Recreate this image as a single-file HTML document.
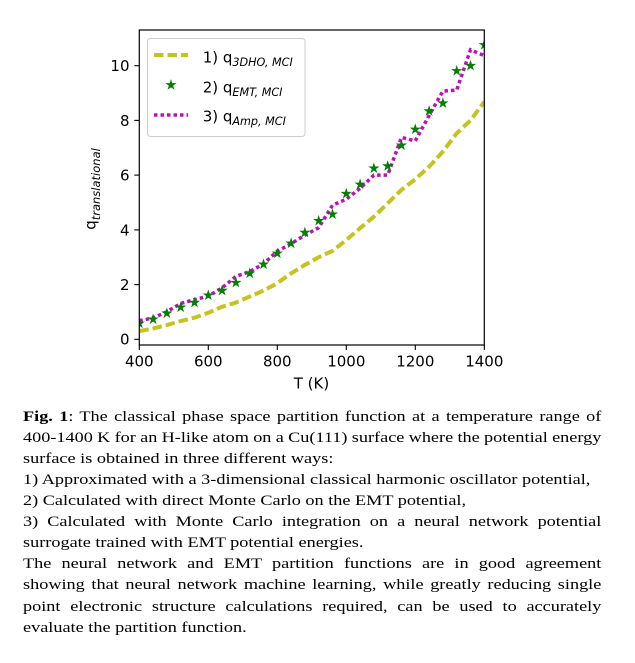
<!DOCTYPE html>
<html>
<head>
<meta charset="utf-8">
<style>
  html,body{margin:0;padding:0;background:#fff;}
  body{width:635px;height:663px;overflow:hidden;position:relative;}
  svg{position:absolute;left:0;top:0;}
  #cap{position:absolute;left:22.5px;top:407.1px;width:476px;transform:scaleX(1.215);transform-origin:0 0;
       font-family:"Liberation Serif","Times New Roman",serif;font-size:15px;line-height:21.06px;color:#000;}
  #cap div{height:21.06px;white-space:normal;}
  #cap .j{text-align:justify;text-align-last:justify;}
  #cap .l{text-align:left;}
</style>
</head>
<body>
<svg width="635" height="400" viewBox="0 0 635 400" xmlns="http://www.w3.org/2000/svg">
  <defs>
    <clipPath id="ax"><rect x="139.3" y="30" width="345" height="315"/></clipPath>
    <path id="star" d="M0,-4.6 L1.034,-1.424 L4.375,-1.421 L1.674,0.544 L2.704,3.721 L0,1.76 L-2.704,3.721 L-1.674,0.544 L-4.375,-1.421 L-1.034,-1.424 Z" fill="#008000" stroke="#008000" stroke-width="0.8" stroke-linejoin="miter"/>
  </defs>

  <g clip-path="url(#ax)">
    <polyline fill="none" stroke="#c6c21f" stroke-width="4" stroke-dasharray="9.5 4" stroke-linecap="butt"
      points="139.3,331.1 153.1,328.4 166.9,325.1 180.7,321.0 194.5,317.7 208.3,312.8 222.1,306.7 235.9,302.6 249.7,296.6 263.5,290.6 277.3,283.2 291.1,273.4 304.9,264.9 318.7,257.2 332.5,250.9 346.3,240.0 360.1,228.2 373.9,216.7 387.7,203.3 401.5,189.9 415.3,179.2 429.1,166.7 442.9,151.6 456.7,133.3 470.5,120.4 484.3,101.8"/>
    <polyline fill="none" stroke="#bb11bb" stroke-width="3.5" stroke-dasharray="3.5 3" stroke-linecap="butt"
      points="139.3,320.7 153.1,318.0 166.9,311.7 180.7,303.5 194.5,299.6 208.3,296.1 222.1,287.9 235.9,276.4 249.7,271.7 263.5,263.8 277.3,251.2 291.1,243.8 304.9,235.1 318.7,227.7 332.5,205.2 346.3,199.2 360.1,188.3 373.9,175.1 387.7,175.1 401.5,137.4 415.3,140.9 429.1,115.5 442.9,91.1 456.7,90.1 470.5,49.8 484.3,55.6"/>
    <use href="#star" x="139.3" y="323.4"/>
    <use href="#star" x="153.1" y="319.3"/>
    <use href="#star" x="166.9" y="313.3"/>
    <use href="#star" x="180.7" y="307.3"/>
    <use href="#star" x="194.5" y="302.6"/>
    <use href="#star" x="208.3" y="295.3"/>
    <use href="#star" x="222.1" y="290.6"/>
    <use href="#star" x="235.9" y="282.7"/>
    <use href="#star" x="249.7" y="273.4"/>
    <use href="#star" x="263.5" y="264.3"/>
    <use href="#star" x="277.3" y="253.4"/>
    <use href="#star" x="291.1" y="243.3"/>
    <use href="#star" x="304.9" y="232.6"/>
    <use href="#star" x="318.7" y="220.8"/>
    <use href="#star" x="332.5" y="214.3"/>
    <use href="#star" x="346.3" y="193.7"/>
    <use href="#star" x="360.1" y="184.4"/>
    <use href="#star" x="373.9" y="168.3"/>
    <use href="#star" x="387.7" y="166.1"/>
    <use href="#star" x="401.5" y="145.3"/>
    <use href="#star" x="415.3" y="129.4"/>
    <use href="#star" x="429.1" y="111.1"/>
    <use href="#star" x="442.9" y="103.2"/>
    <use href="#star" x="456.7" y="70.9"/>
    <use href="#star" x="470.5" y="65.7"/>
    <use href="#star" x="484.3" y="44.9"/>
  </g>

  <!-- axes frame -->
  <rect x="139.3" y="30" width="345" height="315" fill="none" stroke="#000" stroke-width="1.2"/>

  <!-- x ticks -->
  <g stroke="#000" stroke-width="1.1">
    <line x1="139.3" y1="345" x2="139.3" y2="350"/>
    <line x1="208.3" y1="345" x2="208.3" y2="350"/>
    <line x1="277.3" y1="345" x2="277.3" y2="350"/>
    <line x1="346.3" y1="345" x2="346.3" y2="350"/>
    <line x1="415.3" y1="345" x2="415.3" y2="350"/>
    <line x1="484.3" y1="345" x2="484.3" y2="350"/>
    <line x1="134.3" y1="339.3" x2="139.3" y2="339.3"/>
    <line x1="134.3" y1="284.6" x2="139.3" y2="284.6"/>
    <line x1="134.3" y1="229.9" x2="139.3" y2="229.9"/>
    <line x1="134.3" y1="175.1" x2="139.3" y2="175.1"/>
    <line x1="134.3" y1="120.4" x2="139.3" y2="120.4"/>
    <line x1="134.3" y1="65.7" x2="139.3" y2="65.7"/>
  </g>

  <g font-family="DejaVu Sans, sans-serif" font-size="15" fill="#000">
    <g text-anchor="middle">
      <text x="139.3" y="366.5">400</text>
      <text x="208.3" y="366.5">600</text>
      <text x="277.3" y="366.5">800</text>
      <text x="346.3" y="366.5">1000</text>
      <text x="415.3" y="366.5">1200</text>
      <text x="484.3" y="366.5">1400</text>
    </g>
    <g text-anchor="end">
      <text x="129.5" y="344.7">0</text>
      <text x="129.5" y="290.0">2</text>
      <text x="129.5" y="235.3">4</text>
      <text x="129.5" y="180.5">6</text>
      <text x="129.5" y="125.8">8</text>
      <text x="129.5" y="71.1">10</text>
    </g>
    <text x="311.5" y="388.5" text-anchor="middle">T (K)</text>
    <text transform="translate(95.5,189) rotate(-90)" text-anchor="middle">q<tspan font-style="italic" font-size="11.5" dy="4.5">translational</tspan></text>
  </g>

  <!-- legend -->
  <rect x="147.5" y="38.5" width="157.5" height="98" rx="3" ry="3" fill="#fff" fill-opacity="0.8" stroke="#cccccc" stroke-width="1"/>
  <line x1="154" y1="55" x2="188" y2="55" stroke="#c6c21f" stroke-width="4" stroke-dasharray="9.5 4"/>
  <use href="#star" x="171" y="85"/>
  <line x1="154" y1="115" x2="188" y2="115" stroke="#bb11bb" stroke-width="3.5" stroke-dasharray="3.5 3"/>
  <g font-family="DejaVu Sans, sans-serif" font-size="15" fill="#000">
    <text x="202.7" y="62.3">1) q<tspan font-style="italic" font-size="11.2" dy="3.5">3DHO, MCI</tspan></text>
    <text x="202.7" y="92.3">2) q<tspan font-style="italic" font-size="11.2" dy="3.5">EMT, MCI</tspan></text>
    <text x="202.7" y="121.3">3) q<tspan font-style="italic" font-size="11.2" dy="3.5">Amp, MCI</tspan></text>
  </g>
</svg>

<div id="cap">
  <div class="j"><b>Fig. 1</b>: The classical phase space partition function at a temperature range of</div>
  <div class="j" style="word-spacing:-0.5px;">400-1400 K for an H-like atom on a Cu(111) surface where the potential energy</div>
  <div class="l">surface is obtained in three different ways:</div>
  <div class="l">1) Approximated with a 3-dimensional classical harmonic oscillator potential,</div>
  <div class="l">2) Calculated with direct Monte Carlo on the EMT potential,</div>
  <div class="j">3) Calculated with Monte Carlo integration on a neural network potential</div>
  <div class="l">surrogate trained with EMT potential energies.</div>
  <div class="j">The neural network and EMT partition functions are in good agreement</div>
  <div class="j">showing that neural network machine learning, while greatly reducing single</div>
  <div class="j">point electronic structure calculations required, can be used to accurately</div>
  <div class="l">evaluate the partition function.</div>
</div>
</body>
</html>
